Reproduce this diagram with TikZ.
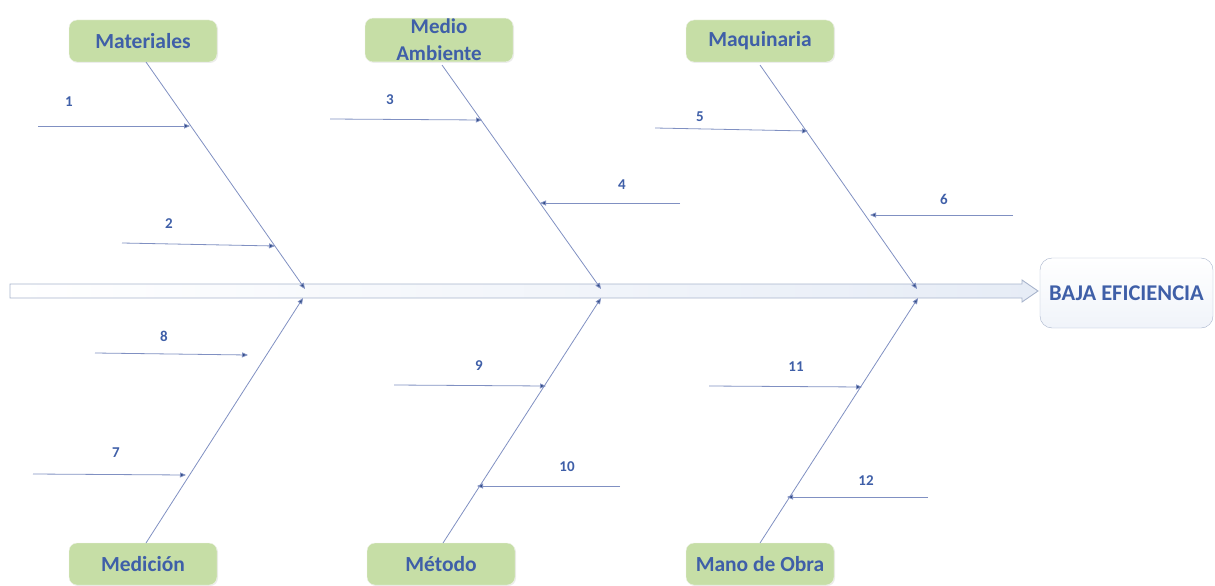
\documentclass[tikz,border=0pt]{standalone}
\usepackage{fontspec}
\setmainfont{Carlito}
\usetikzlibrary{arrows.meta,shadows}
\definecolor{txtblue}{HTML}{3F5FA8}
\definecolor{bonecol}{HTML}{8090C2}
\definecolor{catfill}{HTML}{C6DEA6}
\definecolor{spineline}{HTML}{A8B4CC}
\definecolor{spinefill}{HTML}{E6ECF6}
\tikzset{
  cat/.style={draw=catfill!85!black!20, fill=catfill, rounded corners=8pt,
    minimum width=148pt, minimum height=42pt, inner sep=1pt, align=center,
    font=\fontsize{21.5}{21.5}\selectfont\bfseries, text=txtblue,
    drop shadow={opacity=0.15, shadow xshift=1pt, shadow yshift=-1pt}},
  effect/.style={draw=spineline, rounded corners=12pt,
    top color=white, bottom color=spinefill!60,
    minimum width=173pt, minimum height=70pt,
    font=\fontsize{22.5}{22.5}\selectfont\bfseries, text=txtblue},
  bone/.style={draw=bonecol, line width=0.8pt,
    -{Triangle[length=6pt,width=5pt,fill=txtblue!80!black]}},
  sub/.style={draw=bonecol, line width=0.8pt,
    -{Triangle[length=6pt,width=5pt,fill=txtblue!80!black]}},
  num/.style={font=\fontsize{15}{15}\selectfont\bfseries, text=txtblue},
}
\begin{document}
\begin{tikzpicture}[x=1pt,y=-1pt]
\useasboundingbox (0,0) rectangle (1215,586);

% spine (hollow block arrow)
\path[draw=spineline, line width=0.9pt, left color=white, right color=spinefill]
  (10,284) -- (1022,284) -- (1022,280) -- (1038,291) -- (1022,302)
  -- (1022,298) -- (10,298) -- cycle;

% effect box
\node[effect] (eff) at (1126.5,293) {BAJA EFICIENCIA};

% category boxes
\node[cat] (mat) at (143,41) {Materiales};
\node[cat, font=\fontsize{21}{27}\selectfont\bfseries] (amb) at (439,40) {Medio\\Ambiente};
\node[cat] (maq) at (760,41) {Maquinaria};
\node[cat] (med) at (143,564) {Medición};
\node[cat] (met) at (441,564) {Método};
\node[cat] (mob) at (760,564) {Mano de Obra};

% bone end points on the spine
\coordinate (jmat) at (305,289);
\coordinate (jamb) at (601,289);
\coordinate (jmaq) at (917,289);
\coordinate (jmed) at (303,298);
\coordinate (jmet) at (601,298);
\coordinate (jmob) at (918,298);

\draw[bone] (146,62) -- (jmat);
\draw[bone] (442,65) -- (jamb);
\draw[bone] (760,65) -- (jmaq);
\draw[bone] (146,543) -- (jmed);
\draw[bone] (443,543) -- (jmet);
\draw[bone] (760,543) -- (jmob);

% causes
\coordinate (s1) at (38,126);   \coordinate (e1) at (190,126);
\coordinate (s2) at (122,243);  \coordinate (e2) at (275,246);
\coordinate (s3) at (330,119);  \coordinate (e3) at (482,120);
\coordinate (s4) at (680,203);  \coordinate (e4) at (540,203);
\coordinate (s5) at (655,128);  \coordinate (e5) at (808,131);
\coordinate (s6) at (1013,215); \coordinate (e6) at (870,215);
\coordinate (s8) at (95,353);   \coordinate (e8) at (248,355);
\coordinate (s7) at (33,474);   \coordinate (e7) at (186,475);
\coordinate (s9) at (394,385);  \coordinate (e9) at (546,386);
\coordinate (s10) at (620,486); \coordinate (e10) at (477,486);
\coordinate (s11) at (709,386); \coordinate (e11) at (862,387);
\coordinate (s12) at (928,497); \coordinate (e12) at (787,497);

\foreach \i in {1,...,12} {\draw[sub] (s\i) -- (e\i);}

\node[num] (n1) at (69,102) {1};
\node[num] (n2) at (169,224) {2};
\node[num] (n3) at (390,100) {3};
\node[num] (n4) at (622,185) {4};
\node[num] (n5) at (700,117) {5};
\node[num] (n6) at (944,199) {6};
\node[num] (n8) at (164,336) {8};
\node[num] (n7) at (116,453) {7};
\node[num] (n9) at (479,366) {9};
\node[num] (n10) at (567,467) {10};
\node[num] (n11) at (796,367) {11};
\node[num] (n12) at (866,481) {12};
\end{tikzpicture}
\end{document}
